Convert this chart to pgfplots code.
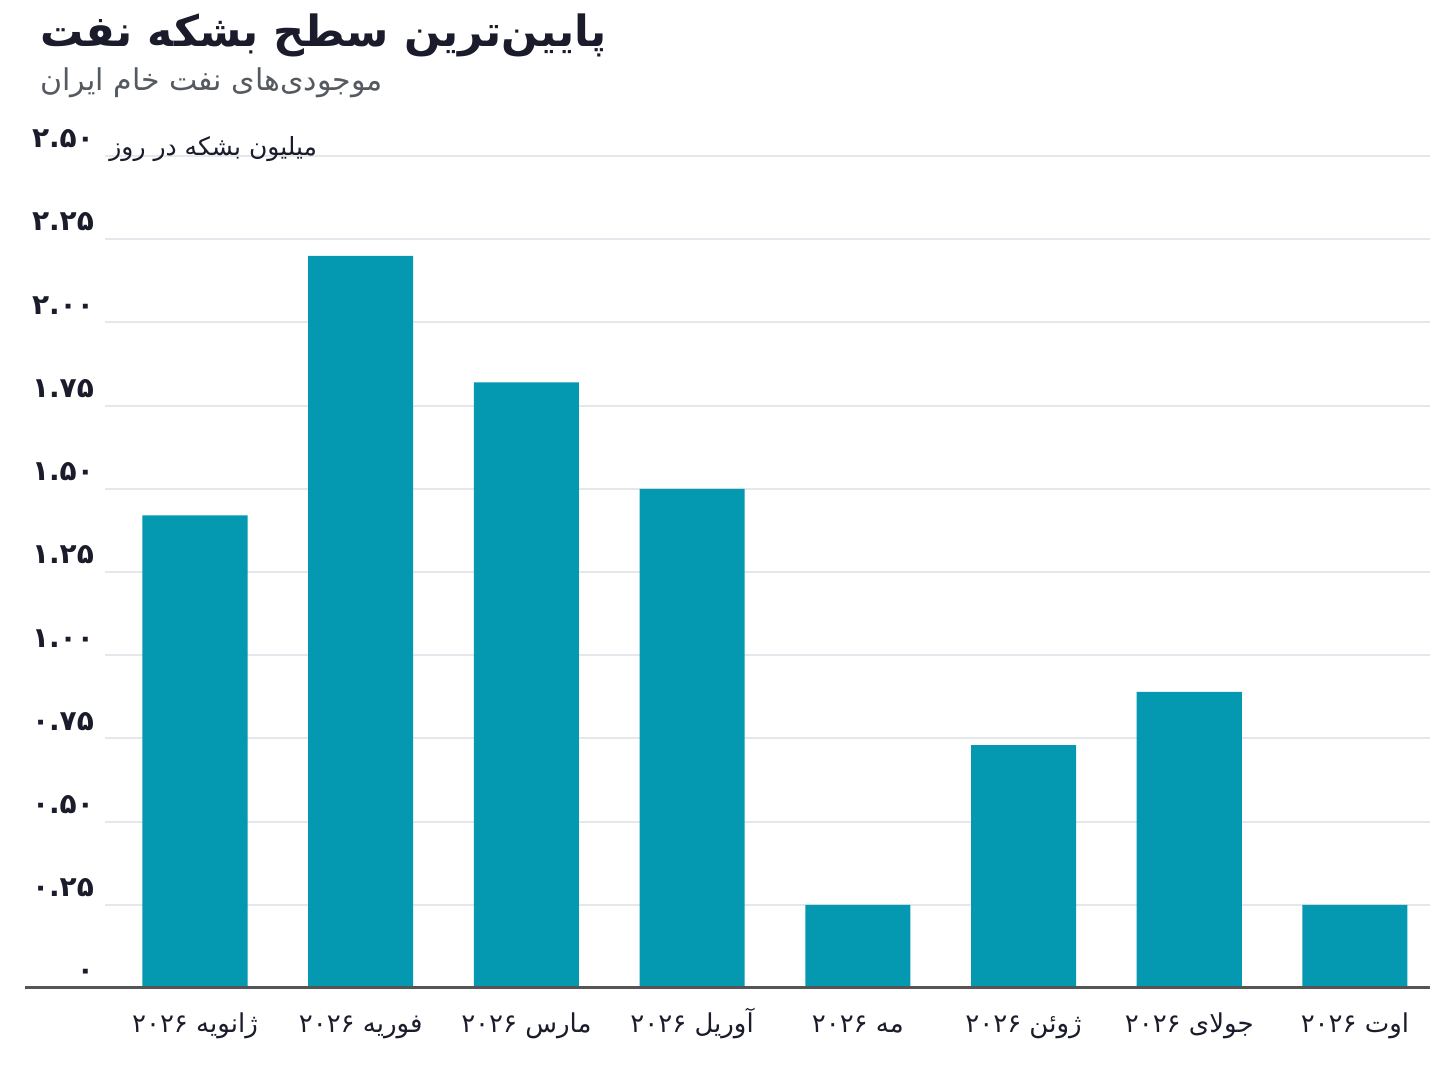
\documentclass[border=0pt]{standalone}
\usepackage{pgfplots}
\pgfplotsset{compat=1.18}
\usepackage{fontspec}
\setmainfont{DejaVu Sans}
\newfontfamily\arabicfont[Script=Arabic]{DejaVu Sans}
\TeXXeTstate=1

\definecolor{barc}{HTML}{0498B1}
\definecolor{titlec}{HTML}{1B1C2B}
\definecolor{subc}{HTML}{555A60}
\definecolor{gridc}{HTML}{E4E7EB}
\definecolor{basec}{HTML}{555555}

\pgfplotstableread{
x val
0 1.42
1 2.20
2 1.82
3 1.50
4 0.25
5 0.73
6 0.89
7 0.25
}\oildata

\newcommand{\yt}[1]{{\arabicfont\bfseries #1}}
\newcommand{\mo}[1]{{\arabicfont\beginR #1 \beginL۲۰۲۶\endL\endR}}

\begin{document}
\begin{tikzpicture}
\begin{axis}[
    name=ax,
    scale only axis,
    clip=false,
    width=662.5pt, height=416pt,
    xmin=-0.543, xmax=7.453,
    ymin=0, ymax=2.5,
    axis line style={draw=none},
    tick style={draw=none},
    ymajorgrids,
    grid style={gridc, line width=1pt},
    ytick={0,0.25,0.5,0.75,1,1.25,1.5,1.75,2,2.25,2.5},
    yticklabels={\yt{۰},\yt{۰.۲۵},\yt{۰.۵۰},\yt{۰.۷۵},\yt{۱.۰۰},\yt{۱.۲۵},\yt{۱.۵۰},\yt{۱.۷۵},\yt{۲.۰۰},\yt{۲.۲۵},\yt{۲.۵۰}},
    yticklabel style={anchor=south east, font=\fontsize{14}{16}\selectfont, text=titlec, xshift=-2pt, yshift=0.5pt},
    xtick={0,...,7},
    xticklabels={\mo{ژانویه},\mo{فوریه},\mo{مارس},\mo{آوریل},\mo{مه},\mo{ژوئن},\mo{جولای},\mo{اوت}},
    xticklabel style={font=\fontsize{13}{15}\selectfont, text=titlec, text height=10pt, text depth=4pt, yshift=-4.5pt},
    ybar, bar width=0.634,
]
\addplot[fill=barc, draw=none] table[x=x, y=val] {\oildata};
\draw[basec, line width=1.5pt] ([xshift=-40pt]rel axis cs:0,0) -- (rel axis cs:1,0);
\node[anchor=south west, font=\arabicfont\fontsize{12.5}{15}\selectfont, text=titlec, inner sep=0pt] at ([xshift=2pt,yshift=-3pt]rel axis cs:0,1) {\beginR میلیون بشکه در روز\endR};
\end{axis}
\node[anchor=west, font=\arabicfont\bfseries\fontsize{21.5}{26}\selectfont, text=titlec, inner sep=0pt] at ([xshift=-32.5pt,yshift=60.5pt]ax.north west) {\beginR پایین‌ترین سطح بشکه نفت\endR};
\node[anchor=west, font=\arabicfont\fontsize{15}{18}\selectfont, text=subc, inner sep=0pt] at ([xshift=-32.5pt,yshift=36.5pt]ax.north west) {\beginR موجودی‌های نفت خام ایران\endR};
\pgfresetboundingbox
\useasboundingbox ([xshift=-52.5pt,yshift=-50.5pt]ax.south west) rectangle ([xshift=7pt,yshift=78pt]ax.north east);
\end{tikzpicture}
\end{document}
